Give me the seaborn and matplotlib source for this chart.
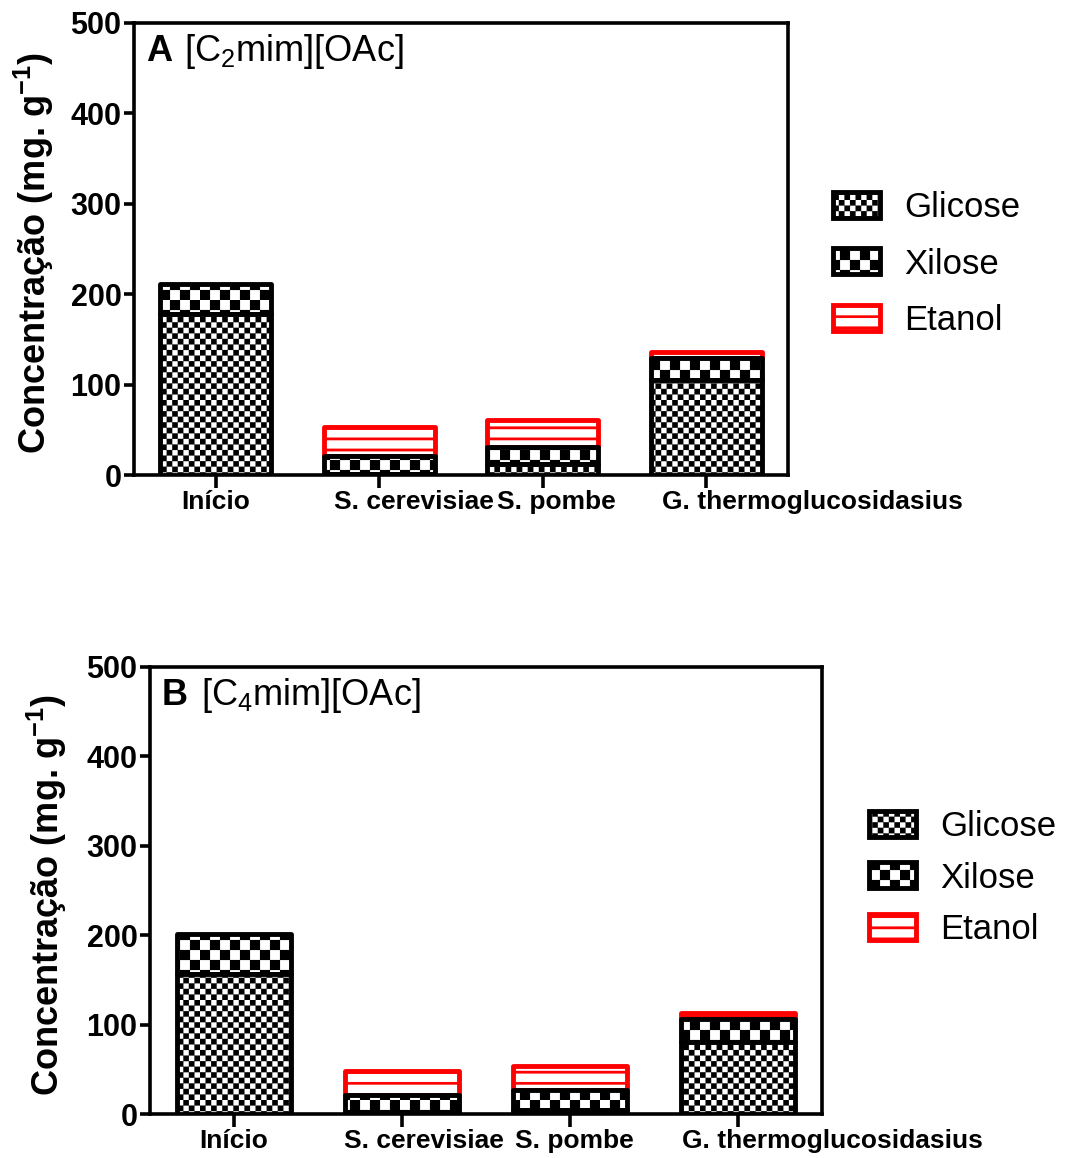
import warnings
warnings.filterwarnings('ignore')
import numpy as np
import pandas as pd
import matplotlib
matplotlib.use('Agg')
import matplotlib.pyplot as plt
import matplotlib.hatch as mhatch
import matplotlib.patches as mpatches
from matplotlib.path import Path
from matplotlib.transforms import ScaledTranslation, blended_transform_factory
import seaborn as sns

# ---------------- data ----------------
categories = ['Início', 'S. cerevisiae', 'S. pombe', 'G. thermoglucosidasius']
glicose_A = [178, 1, 12, 105]
xilose_A = [33, 20, 19, 24]
etanol_A = [0, 32, 30, 7]
glicose_B = [157, 2, 5, 81]
xilose_B = [44, 19, 22, 25]
etanol_B = [0, 27, 27, 7]
yticks = [0, 100, 200, 300, 400, 500]
legend_labels = ['Glicose', 'Xilose', 'Etanol']


# ---------------- custom hatches (checkerboards and bands) ----------------
class _Checker(mhatch.HatchPatternBase):
    char = 'c'
    periods = 9

    def __init__(self, hatch, density):
        self.n = self.periods if (hatch and self.char in hatch) else 0
        self.num_vertices = 2 * self.n * self.n * 5

    def _fill(self, vertices, codes):
        s = 1.0 / (2 * self.n)
        verts = []
        for i in range(2 * self.n):
            for j in range(2 * self.n):
                if (i + j) % 2 == 0:
                    x, y = i * s, j * s
                    verts.extend([(x, y), (x + s, y), (x + s, y + s), (x, y + s), (x, y)])
        vertices[:] = np.array(verts)
        codes[:] = [Path.MOVETO, Path.LINETO, Path.LINETO, Path.LINETO,
                    Path.CLOSEPOLY] * (2 * self.n * self.n)

    def set_vertices_and_codes(self, vertices, codes):
        self._fill(vertices, codes)

    def get_vertices_and_codes(self, vertices, codes):
        self._fill(vertices, codes)


class FineChecker(_Checker):
    char = 'c'
    periods = 9


class CoarseChecker(_Checker):
    char = 'k'
    periods = 5


class Bands(mhatch.HatchPatternBase):
    def __init__(self, hatch, density):
        self.n = 9 if (hatch and 'h' in hatch) else 0
        self.num_vertices = self.n * 5

    def _fill(self, vertices, codes):
        t = 0.026
        verts = []
        for k in range(self.n):
            y = (k + 0.5) / self.n
            verts.extend([(0, y - t / 2), (1, y - t / 2), (1, y + t / 2), (0, y + t / 2), (0, y - t / 2)])
        vertices[:] = np.array(verts)
        codes[:] = [Path.MOVETO, Path.LINETO, Path.LINETO, Path.LINETO,
                    Path.CLOSEPOLY] * self.n

    def set_vertices_and_codes(self, vertices, codes):
        self._fill(vertices, codes)

    def get_vertices_and_codes(self, vertices, codes):
        self._fill(vertices, codes)


mhatch._hatch_types.extend([FineChecker, CoarseChecker, Bands])

# ---------------- style ----------------
sns.set_theme(style='white')
plt.rcParams['font.family'] = ['Liberation Sans', 'DejaVu Sans']
plt.rcParams['mathtext.fontset'] = 'custom'
plt.rcParams['mathtext.rm'] = 'Liberation Sans'
plt.rcParams['mathtext.it'] = 'Liberation Sans:italic'
plt.rcParams['mathtext.bf'] = 'Liberation Sans:bold'
plt.rcParams['hatch.linewidth'] = 0.1
plt.rcParams['axes.edgecolor'] = 'black'
plt.rcParams['text.color'] = 'black'
plt.rcParams['axes.labelcolor'] = 'black'
plt.rcParams['xtick.color'] = 'black'
plt.rcParams['ytick.color'] = 'black'

fig = plt.figure(figsize=(10.72, 11.58), dpi=100)
axA = fig.add_axes([134 / 1072, (1158 - 475) / 1158, 654 / 1072, 452 / 1158])
axB = fig.add_axes([150 / 1072, (1158 - 1114) / 1158, 672 / 1072, 447 / 1158])

LW = 3.5


def draw_panel(ax, glic, xil, etan, letter, sub, offsets, leg_anchor, labelspacing):
    df = pd.DataFrame({'cat': categories, 'glicose': glic, 'xilose': xil, 'etanol': etan})
    g = np.array(glic, dtype=float)
    x = np.array(xil, dtype=float)
    common = dict(data=df, x='cat', ax=ax, errorbar=None, width=0.68,
                  linewidth=LW, joinstyle='round', color='white', saturation=1)
    sns.barplot(y='etanol', bottom=g + x, edgecolor='#ff0000', hatch='h', zorder=2, **common)
    sns.barplot(y='xilose', bottom=g, edgecolor='black', hatch='k', zorder=3, **common)
    sns.barplot(y='glicose', edgecolor='black', hatch='c', zorder=4, **common)
    for p in ax.patches:
        if p.get_height() == 0:
            p.set_visible(False)

    ax.set_xlim(-0.5, 3.5)
    ax.set_ylim(0, 500)
    ax.set_xlabel('')
    ax.set_yticks(yticks)
    ax.set_yticklabels([str(v) for v in yticks], fontsize=22, fontweight='bold')
    ax.set_xticks(range(len(categories)))
    ax.set_xticklabels([''] * len(categories))
    base = blended_transform_factory(ax.transData, ax.transAxes)
    for i, (cat, dx) in enumerate(zip(categories, offsets)):
        tr = base + ScaledTranslation(dx / 100, -15 / 100, fig.dpi_scale_trans)
        ax.text(i, 0, cat, transform=tr, fontsize=19, fontweight='bold',
                ha='center', va='top')
    for sp in ax.spines.values():
        sp.set_linewidth(2.6)
        sp.set_color('black')
        sp.set_visible(True)
    ax.tick_params(axis='x', bottom=True, length=9, width=2.6, color='black', pad=2, direction='out')
    ax.tick_params(axis='y', left=True, length=7, width=2.6, color='black', pad=2, direction='out')
    ax.set_ylabel('Concentração (mg. g$^{\\mathbf{-1}}$)', fontsize=26, fontweight='bold')
    ax.yaxis.set_label_coords(-0.12, 0.49)

    ax.text(0.018, 0.915, letter, transform=ax.transAxes, fontsize=26,
            fontweight='bold', va='baseline', ha='left')
    ax.text(0.076, 0.915, '[C$_{%s}$mim][OAc]' % sub, transform=ax.transAxes,
            fontsize=26, va='baseline', ha='left')

    handles = [
        mpatches.Patch(facecolor='white', edgecolor='black', hatch='c', linewidth=LW, joinstyle='round'),
        mpatches.Patch(facecolor='white', edgecolor='black', hatch='k', linewidth=LW, joinstyle='round'),
        mpatches.Patch(facecolor='white', edgecolor='#ff0000', hatch='h', linewidth=LW, joinstyle='round'),
    ]
    fig.legend(handles, legend_labels, loc='center left', bbox_to_anchor=leg_anchor,
               bbox_transform=fig.transFigure, frameon=False, fontsize=25,
               handlelength=1.35, handleheight=0.78, handletextpad=0.7,
               labelspacing=labelspacing, borderpad=0, borderaxespad=0)


draw_panel(axA, glicose_A, xilose_A, etanol_A, 'A', '2', [0, 35, 14, 106],
           (833 / 1072, 1 - 264 / 1158), 0.67)
draw_panel(axB, glicose_B, xilose_B, etanol_B, 'B', '4', [0, 22, 4, 94],
           (869 / 1072, 1 - 878 / 1158), 0.53)

fig.savefig('out.png', dpi=100, facecolor='white')
